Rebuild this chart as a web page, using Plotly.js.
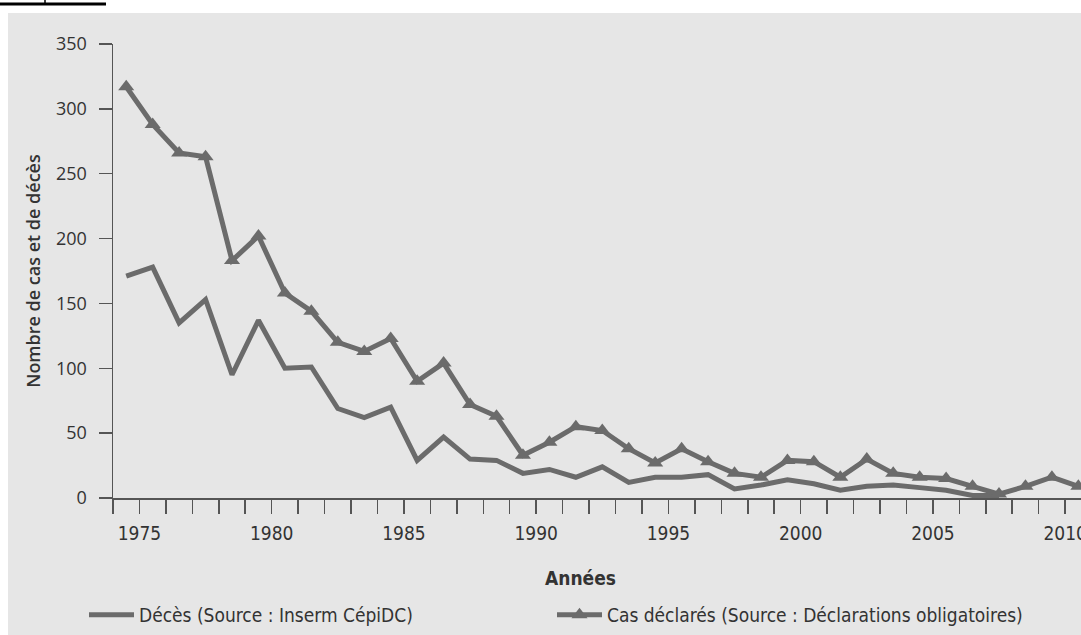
<!DOCTYPE html>
<html>
<head>
<meta charset="utf-8">
<script src="https://cdn.plot.ly/plotly-3.0.1.min.js"></script>
<style>html,body{margin:0;padding:0;background:#fff;}#chart{width:1081px;height:635px;}</style>
</head>
<body>
<div id="chart"></div>
<script>
const years = [1975,1976,1977,1978,1979,1980,1981,1982,1983,1984,1985,1986,1987,1988,1989,1990,1991,1992,1993,1994,1995,1996,1997,1998,1999,2000,2001,2002,2003,2004,2005,2006,2007,2008,2009,2010,2011];
const casDeclares = [317,288,266,263,183,202,158,144,120,113,123,90,104,72,63,33,43,55,52,38,27,38,28,19,16,29,28,16,30,19,16,15,9,3,9,16,9];
const decesYears = [1975,1976,1977,1978,1979,1980,1981,1982,1983,1984,1985,1986,1987,1988,1989,1990,1991,1992,1993,1994,1995,1996,1997,1998,1999,2000,2001,2002,2003,2004,2005,2006,2007,2008];
const deces = [171,178,135,153,95,137,100,101,69,62,70,29,47,30,29,19,22,16,24,12,16,16,18,7,10,14,11,6,9,10,8,6,2,2];
const xTickLabels = ['1975','1980','1985','1990','1995','2000','2005','2010'];
const yTickValues = [0,50,100,150,200,250,300,350];
const serieNames = ['Décès (Source : Inserm CépiDC)', 'Cas déclarés (Source : Déclarations obligatoires)'];

const lineColor = '#6b6b6b';
const textColor = '#333333';
const axisColor = '#555555';
const narrow = '"DejaVu Sans Condensed", "DejaVu Sans", sans-serif';

// category boundaries (ticks between years)
const boundaries = [];
for (let i = 0; i <= years.length; i++) boundaries.push(years[0] - 0.5 + i);
const boundaryText = boundaries.map(b => {
  const y = String(b - 0.5);
  return xTickLabels.includes(y) ? y : '';
});

const L = 113, T = 44, W = 1081, H = 635, B = 137;
const pw = W - L, ph = H - T - B;
const px = x => (x - L) / pw;
const py = y => (H - B - y) / ph;

const traces = [
  {x: decesYears, y: deces, name: serieNames[0], mode: 'lines', legend: 'legend',
   line: {color: lineColor, width: 5}},
  {x: years, y: casDeclares, name: serieNames[1], mode: 'lines+markers', legend: 'legend2',
   line: {color: lineColor, width: 5},
   marker: {symbol: 'triangle-up', size: 14, color: lineColor}}
];

const legendBase = {
  orientation: 'h', yanchor: 'middle', xanchor: 'left', y: py(615),
  bgcolor: 'rgba(0,0,0,0)', itemwidth: 45,
  font: {family: narrow, size: 19, color: textColor}
};

const layout = {
  width: W, height: H,
  margin: {l: L, r: 0, t: T, b: B, pad: 0, autoexpand: false},
  paper_bgcolor: '#e6e6e6',
  plot_bgcolor: '#e6e6e6',
  showlegend: true,
  xaxis: {
    range: [1974.5, 2011.1],
    tickmode: 'array', tickvals: boundaries, ticktext: boundaryText,
    ticks: 'outside', ticklen: 14, tickwidth: 1.5, tickcolor: axisColor,
    showline: true, linecolor: axisColor, linewidth: 1.5,
    showgrid: false, zeroline: false,
    ticklabelstandoff: 4, ticklabeloverflow: 'allow',
    tickfont: {family: narrow, size: 19, color: textColor}
  },
  yaxis: {
    range: [0, 350],
    tickmode: 'array', tickvals: yTickValues,
    ticks: 'outside', ticklen: 13, tickwidth: 1.5, tickcolor: axisColor,
    showline: true, linecolor: axisColor, linewidth: 1.5,
    showgrid: false, zeroline: false,
    ticklabelstandoff: 8,
    tickfont: {family: '"Open Sans", sans-serif', size: 18, color: textColor},
    title: {text: 'Nombre de cas et de décès', standoff: 10,
      font: {family: '"Open Sans", sans-serif', size: 18, color: textColor, weight: 600}}
  },
  legend: Object.assign({}, legendBase, {x: px(84)}),
  legend2: Object.assign({}, legendBase, {x: px(552)}),
  annotations: [
    {text: 'Années', xref: 'paper', yref: 'paper', x: px(580), y: py(578),
     xanchor: 'center', yanchor: 'middle', showarrow: false,
     font: {family: narrow, size: 19, color: textColor, weight: 600}}
  ],
  shapes: [
    {type: 'rect', xref: 'paper', yref: 'paper', x0: px(0), x1: px(W), y0: py(13), y1: py(0),
     fillcolor: '#ffffff', line: {width: 0}, layer: 'above'},
    {type: 'rect', xref: 'paper', yref: 'paper', x0: px(0), x1: px(8), y0: py(H), y1: py(0),
     fillcolor: '#ffffff', line: {width: 0}, layer: 'above'},
    {type: 'line', xref: 'paper', yref: 'paper', x0: px(0), x1: px(106), y0: py(4), y1: py(4),
     line: {color: '#000000', width: 3}, layer: 'above'},
    {type: 'line', xref: 'paper', yref: 'paper', x0: px(45), x1: px(45), y0: py(0), y1: py(4),
     line: {color: '#000000', width: 1.5}, layer: 'above'}
  ]
};

Plotly.newPlot('chart', traces, layout, {displayModeBar: false, staticPlot: true});
</script>
</body>
</html>
